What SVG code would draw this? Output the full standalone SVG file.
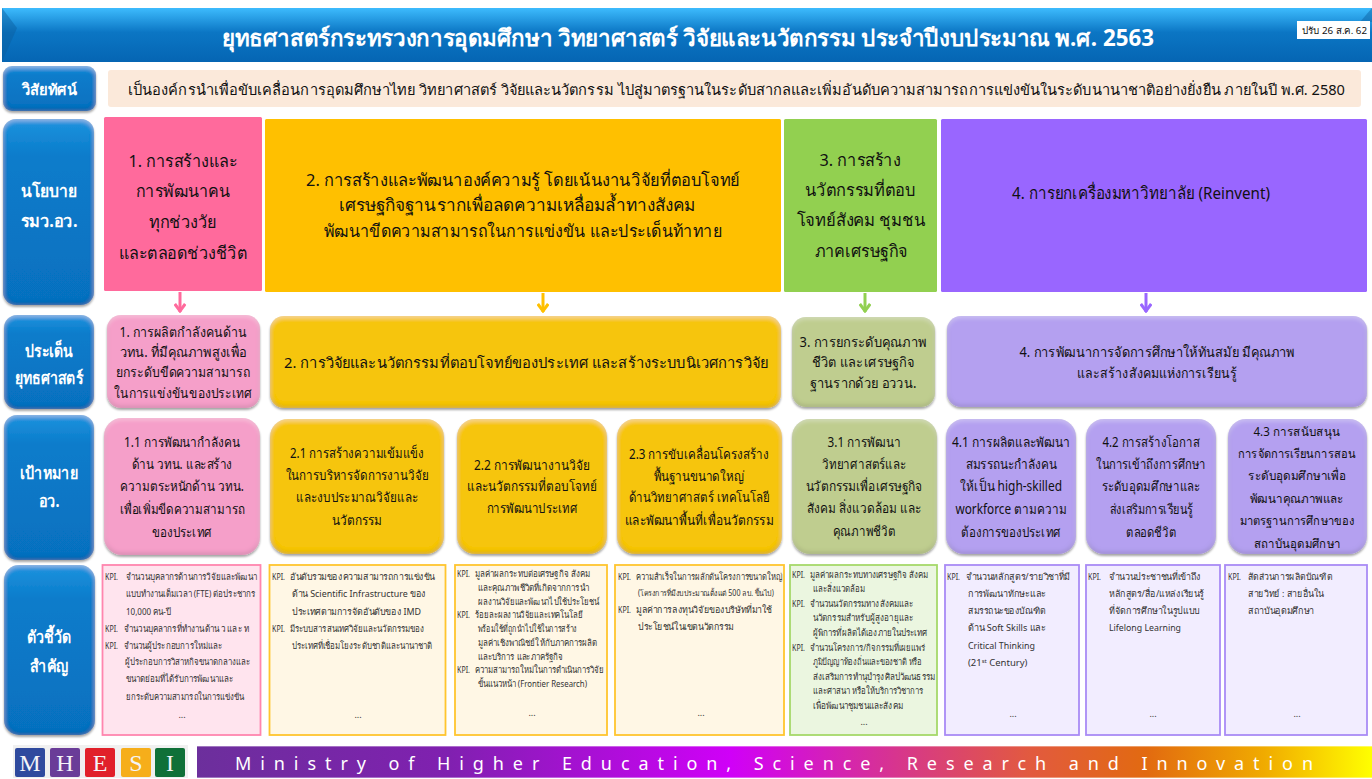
<svg xmlns="http://www.w3.org/2000/svg" width="1372" height="779" viewBox="0 0 1372 779">
<defs>
<style>
text{font-family:"Noto Sans","Liberation Sans","DejaVu Sans",sans-serif;text-anchor:middle;fill:#111}
.title{font-size:23px;font-weight:700;fill:#fff}
.side{font-size:17px;font-weight:700;fill:#fff}
.pol{font-size:17px;fill:#111}
.str{font-size:14px}
.goal{font-size:13.500px}
#goal-4-3 .goal{font-size:12.500px}
.k{font-size:9.500px;text-anchor:start;fill:#333}
text.k[textLength="13"]{font-size:8px}
.d{font-size:9px;fill:#333}
.logo{font-family:"Liberation Serif",serif;font-size:24px;fill:#F4F4F8}
.blue{fill:url(#gBlue);filter:url(#sh)}
.pnk{fill:#F59FC9;filter:url(#sh)}
.yel{fill:#F6C50B;filter:url(#sh)}
.olv{fill:#BFCD8F;filter:url(#sh)}
.pur{fill:#B4A0F0;filter:url(#sh)}
.kp{fill:#FFE4EE;stroke:#FF85AE;stroke-width:1.800}
.ky{fill:#FFF7E5;stroke:#FFC52E;stroke-width:1.800}
.kg{fill:#EBF6E0;stroke:#A6D96A;stroke-width:1.800}
.ku{fill:#F2EDFF;stroke:#A98BF5;stroke-width:1.800}
.arr{stroke-width:3;fill:none}
</style>
<linearGradient id="gBlue" x1="0" y1="0" x2="0" y2="1"><stop offset="0" stop-color="#1E93DE"/><stop offset=".2" stop-color="#0A7CCB"/><stop offset="1" stop-color="#0670BF"/></linearGradient>
<linearGradient id="gTitle" x1="0" y1="0" x2="0" y2="1"><stop offset="0" stop-color="#3DBBFD"/><stop offset=".45" stop-color="#0B76C4"/><stop offset="1" stop-color="#0565B3"/></linearGradient>
<linearGradient id="gBand" x1="0" y1="0" x2="1" y2="0"><stop offset="0" stop-color="#6C2F9C"/><stop offset=".215" stop-color="#8020B0"/><stop offset=".454" stop-color="#D000F8"/><stop offset=".614" stop-color="#D83C80"/><stop offset=".709" stop-color="#E25A3F"/><stop offset=".808" stop-color="#E26A10"/><stop offset=".907" stop-color="#F0AA00"/><stop offset=".95" stop-color="#F8D000"/><stop offset="1" stop-color="#FFFF00"/></linearGradient>
<filter id="sh" x="-5%" y="-5%" width="110%" height="112%">
<feGaussianBlur in="SourceAlpha" stdDeviation="1.200" result="b0"/><feOffset in="b0" dy="1.500" result="o0"/><feFlood flood-color="#000" flood-opacity=".35"/><feComposite in2="o0" operator="in" result="drop"/>
<feGaussianBlur in="SourceAlpha" stdDeviation="2" result="b1"/><feOffset in="b1" dy="-2" result="o1"/><feComposite in="SourceAlpha" in2="o1" operator="out" result="c1"/><feFlood flood-color="#000" flood-opacity=".28"/><feComposite in2="c1" operator="in" result="dark"/>
<feOffset in="b1" dy="2" result="o2"/><feComposite in="SourceAlpha" in2="o2" operator="out" result="c2"/><feFlood flood-color="#fff" flood-opacity=".3"/><feComposite in2="c2" operator="in" result="light"/>
<feMerge><feMergeNode in="drop"/><feMergeNode in="SourceGraphic"/><feMergeNode in="dark"/><feMergeNode in="light"/></feMerge>
</filter>
<marker id="mP" viewBox="0 0 12 12" refX="11" refY="6" markerWidth="12" markerHeight="12" markerUnits="userSpaceOnUse" orient="auto"><path d="M3 .8L10 6L3 11.200" fill="none" stroke="#FF6A9C" stroke-width="3"/></marker>
<marker id="mY" viewBox="0 0 12 12" refX="11" refY="6" markerWidth="12" markerHeight="12" markerUnits="userSpaceOnUse" orient="auto"><path d="M3 .8L10 6L3 11.200" fill="none" stroke="#FFC000" stroke-width="3"/></marker>
<marker id="mG" viewBox="0 0 12 12" refX="11" refY="6" markerWidth="12" markerHeight="12" markerUnits="userSpaceOnUse" orient="auto"><path d="M3 .8L10 6L3 11.200" fill="none" stroke="#92D050" stroke-width="3"/></marker>
<marker id="mU" viewBox="0 0 12 12" refX="11" refY="6" markerWidth="12" markerHeight="12" markerUnits="userSpaceOnUse" orient="auto"><path d="M3 .8L10 6L3 11.200" fill="none" stroke="#9966FF" stroke-width="3"/></marker>
</defs>
<rect width="1372" height="779" fill="#fff"/>
<g id="title"><rect x="2" y="8" width="1370" height="54" fill="url(#gTitle)"/><path d="M2 8L17 28L2 62Z" fill="#0A5E9E" opacity=".45"/><path d="M1372 8L1360 22H1372Z" fill="#0A5E9E" opacity=".45"/>
<text class="title" x="688" y="46" textLength="932" lengthAdjust="spacingAndGlyphs">ยุทธศาสตร์กระทรวงการอุดมศึกษา วิทยาศาสตร์ วิจัยและนวัตกรรม ประจำปีงบประมาณ พ.ศ. 2563</text></g>
<g id="date-tag"><rect x="1297" y="21" width="73" height="18" fill="#fff"/><text x="1334.500" y="34" style="font-size:9.500px" textLength="65" lengthAdjust="spacingAndGlyphs">ปรับ 26 ส.ค. 62</text></g>
<g id="vision-label"><rect class="blue" x="3" y="66" width="93" height="45" rx="9"/><text class="side" x="49.500" y="95" style="font-size:15px" textLength="55" lengthAdjust="spacingAndGlyphs">วิสัยทัศน์</text></g>
<g id="vision"><rect x="108" y="70" width="1253" height="37" rx="3" fill="#FBE9DA"/><text x="736.500" y="95" style="font-size:14.500px" textLength="1217" lengthAdjust="spacingAndGlyphs">เป็นองค์กรนำเพื่อขับเคลื่อนการอุดมศึกษาไทย วิทยาศาสตร์ วิจัยและนวัตกรรม ไปสู่มาตรฐานในระดับสากลและเพิ่มอันดับความสามารถการแข่งขันในระดับนานาชาติอย่างยั่งยืน ภายในปี พ.ศ. 2580</text></g>
<g id="policy-label"><rect class="blue" x="3" y="119" width="91" height="186" rx="13"/><text class="side" x="49" y="197" textLength="57" lengthAdjust="spacingAndGlyphs">นโยบาย</text><text class="side" x="49" y="227" textLength="57" lengthAdjust="spacingAndGlyphs">รมว.อว.</text></g>
<g id="strategy-label"><rect class="blue" x="4" y="315" width="90" height="94" rx="13"/><text class="side" x="49" y="357" textLength="48" lengthAdjust="spacingAndGlyphs">ประเด็น</text><text class="side" x="49" y="384" textLength="68" lengthAdjust="spacingAndGlyphs">ยุทธศาสตร์</text></g>
<g id="goal-label"><rect class="blue" x="4" y="415" width="90" height="145" rx="13"/><text class="side" x="49" y="479" textLength="58" lengthAdjust="spacingAndGlyphs">เป้าหมาย</text><text class="side" x="49" y="507" textLength="21" lengthAdjust="spacingAndGlyphs">อว.</text></g>
<g id="kpi-label"><rect class="blue" x="4" y="565" width="91" height="170" rx="15"/><text class="side" x="49" y="643" textLength="45" lengthAdjust="spacingAndGlyphs">ตัวชี้วัด</text><text class="side" x="49" y="672" textLength="38" lengthAdjust="spacingAndGlyphs">สำคัญ</text></g>
<g id="policy-1"><rect x="104" y="117" width="158" height="174" rx="1.500" fill="#FF6A9C"/><text class="pol" x="183" y="167" textLength="109" lengthAdjust="spacingAndGlyphs">1. การสร้างและ</text><text class="pol" x="183" y="197" textLength="94" lengthAdjust="spacingAndGlyphs">การพัฒนาคน</text><text class="pol" x="183" y="228" textLength="68" lengthAdjust="spacingAndGlyphs">ทุกช่วงวัย</text><text class="pol" x="183" y="259" textLength="128" lengthAdjust="spacingAndGlyphs">และตลอดช่วงชีวิต</text></g>
<g id="policy-2"><rect x="265" y="119" width="516" height="173" rx="1.500" fill="#FFC000"/><text class="pol" x="523" y="186" textLength="434" lengthAdjust="spacingAndGlyphs">2. การสร้างและพัฒนาองค์ความรู้ โดยเน้นงานวิจัยที่ตอบโจทย์</text><text class="pol" x="517" y="211" textLength="357" lengthAdjust="spacingAndGlyphs">เศรษฐกิจฐานรากเพื่อลดความเหลื่อมล้ำทางสังคม</text><text class="pol" x="523" y="237" textLength="398" lengthAdjust="spacingAndGlyphs">พัฒนาขีดความสามารถในการแข่งขัน และประเด็นท้าทาย</text></g>
<g id="policy-3"><rect x="784" y="119" width="153" height="173" rx="1.500" fill="#92D050"/><text class="pol" x="860" y="166" textLength="81" lengthAdjust="spacingAndGlyphs">3. การสร้าง</text><text class="pol" x="860" y="196" textLength="111" lengthAdjust="spacingAndGlyphs">นวัตกรรมที่ตอบ</text><text class="pol" x="861" y="226" textLength="129" lengthAdjust="spacingAndGlyphs">โจทย์สังคม ชุมชน</text><text class="pol" x="861" y="257" textLength="93" lengthAdjust="spacingAndGlyphs">ภาคเศรษฐกิจ</text></g>
<g id="policy-4"><rect x="941" y="119" width="426" height="173" rx="1.500" fill="#9966FF"/><text class="pol" x="1141" y="199" textLength="258" lengthAdjust="spacingAndGlyphs">4. การยกเครื่องมหาวิทยาลัย (Reinvent)</text></g>
<g id="connectors">
<path class="arr" stroke="#FF6A9C" marker-end="url(#mP)" d="M180 292V312"/>
<path class="arr" stroke="#FFC000" marker-end="url(#mY)" d="M543 293V312"/>
<path class="arr" stroke="#92D050" marker-end="url(#mG)" d="M865 293V312"/>
<path class="arr" stroke="#9966FF" marker-end="url(#mU)" d="M1146 293V312"/>
</g>
<g id="strategy-1"><rect class="pnk" x="107" y="315" width="153" height="93" rx="14"/><text class="str" x="183" y="337" textLength="127" lengthAdjust="spacingAndGlyphs">1. การผลิตกำลังคนด้าน</text><text class="str" x="183" y="357" textLength="127" lengthAdjust="spacingAndGlyphs">วทน. ที่มีคุณภาพสูงเพื่อ</text><text class="str" x="183" y="377" textLength="134" lengthAdjust="spacingAndGlyphs">ยกระดับขีดความสามารถ</text><text class="str" x="183" y="398" textLength="138" lengthAdjust="spacingAndGlyphs">ในการแข่งขันของประเทศ</text></g>
<g id="strategy-2"><rect class="yel" x="270" y="316" width="511" height="92" rx="14"/><text class="str" x="526" y="368" style="font-size:14.500px" textLength="484" lengthAdjust="spacingAndGlyphs">2. การวิจัยและนวัตกรรมที่ตอบโจทย์ของประเทศ และสร้างระบบนิเวศการวิจัย</text></g>
<g id="strategy-3"><rect class="olv" x="792" y="317" width="143" height="90" rx="14"/><text class="str" x="863" y="347" textLength="127" lengthAdjust="spacingAndGlyphs">3. การยกระดับคุณภาพ</text><text class="str" x="863" y="367" textLength="102" lengthAdjust="spacingAndGlyphs">ชีวิต และเศรษฐกิจ</text><text class="str" x="863" y="388" textLength="107" lengthAdjust="spacingAndGlyphs">ฐานรากด้วย อววน.</text></g>
<g id="strategy-4"><rect class="pur" x="947" y="316" width="420" height="91" rx="14"/><text class="str" x="1157" y="357" textLength="275" lengthAdjust="spacingAndGlyphs">4. การพัฒนาการจัดการศึกษาให้ทันสมัย มีคุณภาพ</text><text class="str" x="1157" y="378" textLength="160" lengthAdjust="spacingAndGlyphs">และสร้างสังคมแห่งการเรียนรู้</text></g>
<g id="goal-1-1"><rect class="pnk" x="104" y="418" width="156" height="137" rx="18"/><text class="goal" x="182" y="447" textLength="116" lengthAdjust="spacingAndGlyphs">1.1 การพัฒนากำลังคน</text><text class="goal" x="182" y="469" textLength="101" lengthAdjust="spacingAndGlyphs">ด้าน วทน. และสร้าง</text><text class="goal" x="182" y="491" textLength="124" lengthAdjust="spacingAndGlyphs">ความตระหนักด้าน วทน.</text><text class="goal" x="182" y="514" textLength="125" lengthAdjust="spacingAndGlyphs">เพื่อเพิ่มขีดความสามารถ</text><text class="goal" x="182" y="537" textLength="60" lengthAdjust="spacingAndGlyphs">ของประเทศ</text></g>
<g id="goal-2-1"><rect class="yel" x="270" y="419" width="174" height="135" rx="18"/><text class="goal" x="357" y="458" textLength="134" lengthAdjust="spacingAndGlyphs">2.1 การสร้างความเข้มแข็ง</text><text class="goal" x="357" y="480" textLength="143" lengthAdjust="spacingAndGlyphs">ในการบริหารจัดการงานวิจัย</text><text class="goal" x="357" y="502" textLength="122" lengthAdjust="spacingAndGlyphs">และงบประมาณวิจัยและ</text><text class="goal" x="357" y="525" textLength="50" lengthAdjust="spacingAndGlyphs">นวัตกรรม</text></g>
<g id="goal-2-2"><rect class="yel" x="457" y="419" width="150" height="135" rx="18"/><text class="goal" x="532" y="470" textLength="116" lengthAdjust="spacingAndGlyphs">2.2 การพัฒนางานวิจัย</text><text class="goal" x="532" y="491" textLength="130" lengthAdjust="spacingAndGlyphs">และนวัตกรรมที่ตอบโจทย์</text><text class="goal" x="532" y="513" textLength="91" lengthAdjust="spacingAndGlyphs">การพัฒนาประเทศ</text></g>
<g id="goal-2-3"><rect class="yel" x="617" y="419" width="165" height="135" rx="18"/><text class="goal" x="699" y="459" textLength="140" lengthAdjust="spacingAndGlyphs">2.3 การขับเคลื่อนโครงสร้าง</text><text class="goal" x="699" y="481" textLength="91" lengthAdjust="spacingAndGlyphs">พื้นฐานขนาดใหญ่</text><text class="goal" x="699" y="502" textLength="141" lengthAdjust="spacingAndGlyphs">ด้านวิทยาศาสตร์ เทคโนโลยี</text><text class="goal" x="699" y="525" textLength="149" lengthAdjust="spacingAndGlyphs">และพัฒนาพื้นที่เพื่อนวัตกรรม</text></g>
<g id="goal-3-1"><rect class="olv" x="792" y="419" width="145" height="135" rx="18"/><text class="goal" x="864" y="447" textLength="73" lengthAdjust="spacingAndGlyphs">3.1 การพัฒนา</text><text class="goal" x="864" y="469" textLength="84" lengthAdjust="spacingAndGlyphs">วิทยาศาสตร์และ</text><text class="goal" x="864" y="491" textLength="117" lengthAdjust="spacingAndGlyphs">นวัตกรรมเพื่อเศรษฐกิจ</text><text class="goal" x="864" y="513" textLength="114" lengthAdjust="spacingAndGlyphs">สังคม สิ่งแวดล้อม และ</text><text class="goal" x="864" y="536" textLength="63" lengthAdjust="spacingAndGlyphs">คุณภาพชีวิต</text></g>
<g id="goal-4-1"><rect class="pur" x="946" y="419" width="130" height="135" rx="18"/><text class="goal" x="1011" y="447" textLength="118" lengthAdjust="spacingAndGlyphs">4.1 การผลิตและพัฒนา</text><text class="goal" x="1011" y="469" textLength="91" lengthAdjust="spacingAndGlyphs">สมรรถนะกำลังคน</text><text class="goal" x="1011" y="491" textLength="102" lengthAdjust="spacingAndGlyphs">ให้เป็น high-skilled</text><text class="goal" x="1011" y="514" textLength="111" lengthAdjust="spacingAndGlyphs">workforce ตามความ</text><text class="goal" x="1011" y="537" textLength="100" lengthAdjust="spacingAndGlyphs">ต้องการของประเทศ</text></g>
<g id="goal-4-2"><rect class="pur" x="1086" y="419" width="130" height="135" rx="18"/><text class="goal" x="1151" y="447" textLength="97" lengthAdjust="spacingAndGlyphs">4.2 การสร้างโอกาส</text><text class="goal" x="1151" y="469" textLength="110" lengthAdjust="spacingAndGlyphs">ในการเข้าถึงการศึกษา</text><text class="goal" x="1151" y="491" textLength="98" lengthAdjust="spacingAndGlyphs">ระดับอุดมศึกษาและ</text><text class="goal" x="1151" y="514" textLength="83" lengthAdjust="spacingAndGlyphs">ส่งเสริมการเรียนรู้</text><text class="goal" x="1151" y="537" textLength="50" lengthAdjust="spacingAndGlyphs">ตลอดชีวิต</text></g>
<g id="goal-4-3"><rect class="pur" x="1228" y="419" width="139" height="135" rx="18"/><text class="goal" x="1297" y="436" textLength="87" lengthAdjust="spacingAndGlyphs">4.3 การสนับสนุน</text><text class="goal" x="1297" y="458" textLength="118" lengthAdjust="spacingAndGlyphs">การจัดการเรียนการสอน</text><text class="goal" x="1297" y="480" textLength="98" lengthAdjust="spacingAndGlyphs">ระดับอุดมศึกษาเพื่อ</text><text class="goal" x="1297" y="503" textLength="94" lengthAdjust="spacingAndGlyphs">พัฒนาคุณภาพและ</text><text class="goal" x="1297" y="525" textLength="115" lengthAdjust="spacingAndGlyphs">มาตรฐานการศึกษาของ</text><text class="goal" x="1297" y="548" textLength="87" lengthAdjust="spacingAndGlyphs">สถาบันอุดมศึกษา</text></g>
<g id="kpi-1"><rect class="kp" x="102.500" y="565" width="158" height="170"/>
<text class="k" x="105" y="580" textLength="13" lengthAdjust="spacingAndGlyphs">KPI.</text><text class="k" x="126" y="580" textLength="131" lengthAdjust="spacingAndGlyphs">จำนวนบุคลากรด้านการวิจัยและพัฒนา</text><text class="k" x="126" y="597" textLength="129" lengthAdjust="spacingAndGlyphs">แบบทำงานเต็มเวลา (FTE) ต่อประชากร</text><text class="k" x="126" y="615" textLength="45" lengthAdjust="spacingAndGlyphs">10,000 คน-ปี</text><text class="k" x="105" y="632" textLength="13" lengthAdjust="spacingAndGlyphs">KPI.</text><text class="k" x="124" y="632" textLength="125" lengthAdjust="spacingAndGlyphs">จำนวนบุคลากรที่ทำงานด้าน ว และ ท</text><text class="k" x="105" y="649" textLength="13" lengthAdjust="spacingAndGlyphs">KPI.</text><text class="k" x="124" y="649" textLength="98" lengthAdjust="spacingAndGlyphs">จำนวนผู้ประกอบการใหม่และ</text><text class="k" x="125" y="665" textLength="125" lengthAdjust="spacingAndGlyphs">ผู้ประกอบการวิสาหกิจขนาดกลางและ</text><text class="k" x="126" y="682" textLength="107" lengthAdjust="spacingAndGlyphs">ขนาดย่อมที่ได้รับการพัฒนาและ</text><text class="k" x="126" y="700" textLength="118" lengthAdjust="spacingAndGlyphs">ยกระดับความสามารถในการแข่งขัน</text><text class="d" x="182" y="718">...</text></g>
<g id="kpi-2"><rect class="ky" x="269.500" y="565" width="176" height="170"/>
<text class="k" x="272" y="580" textLength="13" lengthAdjust="spacingAndGlyphs">KPI.</text><text class="k" x="290" y="580" textLength="145" lengthAdjust="spacingAndGlyphs">อันดับรวมของความสามารถการแข่งขัน</text><text class="k" x="292" y="597" textLength="134" lengthAdjust="spacingAndGlyphs">ด้าน Scientific Infrastructure ของ</text><text class="k" x="292" y="615" textLength="129" lengthAdjust="spacingAndGlyphs">ประเทศตามการจัดอันดับของ IMD</text><text class="k" x="272" y="632" textLength="13" lengthAdjust="spacingAndGlyphs">KPI.</text><text class="k" x="290" y="632" textLength="134" lengthAdjust="spacingAndGlyphs">มีระบบสารสนเทศวิจัยและนวัตกรรมของ</text><text class="k" x="292" y="649" textLength="140" lengthAdjust="spacingAndGlyphs">ประเทศที่เชื่อมโยงระดับชาติและนานาชาติ</text><text class="d" x="358" y="718">...</text></g>
<g id="kpi-3"><rect class="ky" x="455" y="565" width="152" height="170"/>
<text class="k" x="457" y="577" textLength="13" lengthAdjust="spacingAndGlyphs">KPI.</text><text class="k" x="475" y="577" textLength="115" lengthAdjust="spacingAndGlyphs">มูลค่าผลกระทบต่อเศรษฐกิจ สังคม</text><text class="k" x="478" y="591" textLength="111" lengthAdjust="spacingAndGlyphs">และคุณภาพชีวิตที่เกิดจากการนำ</text><text class="k" x="478" y="605" textLength="121" lengthAdjust="spacingAndGlyphs">ผลงานวิจัยและพัฒนาไปใช้ประโยชน์</text><text class="k" x="457" y="618" textLength="13" lengthAdjust="spacingAndGlyphs">KPI.</text><text class="k" x="475" y="618" textLength="108" lengthAdjust="spacingAndGlyphs">ร้อยละผลงานวิจัยและเทคโนโลยี</text><text class="k" x="478" y="632" textLength="99" lengthAdjust="spacingAndGlyphs">พร้อมใช้ที่ถูกนำไปใช้ในการสร้าง</text><text class="k" x="478" y="646" textLength="119" lengthAdjust="spacingAndGlyphs">มูลค่าเชิงพาณิชย์ให้กับภาคการผลิต</text><text class="k" x="478" y="660" textLength="85" lengthAdjust="spacingAndGlyphs">และบริการ และภาครัฐกิจ</text><text class="k" x="457" y="673" textLength="13" lengthAdjust="spacingAndGlyphs">KPI.</text><text class="k" x="475" y="673" textLength="129" lengthAdjust="spacingAndGlyphs">ความสามารถใหม่ในการดำเนินการวิจัย</text><text class="k" x="478" y="687" textLength="109" lengthAdjust="spacingAndGlyphs">ขั้นแนวหน้า (Frontier Research)</text><text class="d" x="532" y="716">...</text></g>
<g id="kpi-4"><rect class="ky" x="615" y="565" width="169" height="170"/>
<text class="k" x="618" y="580" textLength="13" lengthAdjust="spacingAndGlyphs">KPI.</text><text class="k" x="636" y="580" textLength="146" lengthAdjust="spacingAndGlyphs">ความสำเร็จในการผลักดันโครงการขนาดใหญ่</text><text class="k" x="638" y="596" style="font-size:8px" textLength="136" lengthAdjust="spacingAndGlyphs">(โครงการที่มีงบประมาณตั้งแต่ 500 ลบ. ขึ้นไป)</text><text class="k" x="618" y="613" textLength="13" lengthAdjust="spacingAndGlyphs">KPI.</text><text class="k" x="636" y="613" textLength="136" lengthAdjust="spacingAndGlyphs">มูลค่าการลงทุนวิจัยของบริษัทที่มาใช้</text><text class="k" x="638" y="630" textLength="96" lengthAdjust="spacingAndGlyphs">ประโยชน์ในเขตนวัตกรรม</text><text class="d" x="701" y="716">...</text></g>
<g id="kpi-5"><rect class="kg" x="790" y="565" width="147" height="170"/>
<text class="k" x="792" y="578" textLength="13" lengthAdjust="spacingAndGlyphs">KPI.</text><text class="k" x="810" y="578" textLength="118" lengthAdjust="spacingAndGlyphs">มูลค่าผลกระทบทางเศรษฐกิจ สังคม</text><text class="k" x="813" y="592" textLength="52" lengthAdjust="spacingAndGlyphs">และสิ่งแวดล้อม</text><text class="k" x="792" y="607" textLength="13" lengthAdjust="spacingAndGlyphs">KPI.</text><text class="k" x="810" y="607" textLength="103" lengthAdjust="spacingAndGlyphs">จำนวนนวัตกรรมทางสังคมและ</text><text class="k" x="813" y="621" textLength="100" lengthAdjust="spacingAndGlyphs">นวัตกรรมสำหรับผู้สูงอายุและ</text><text class="k" x="813" y="636" textLength="114" lengthAdjust="spacingAndGlyphs">ผู้พิการที่ผลิตได้เองภายในประเทศ</text><text class="k" x="792" y="651" textLength="13" lengthAdjust="spacingAndGlyphs">KPI.</text><text class="k" x="810" y="651" textLength="115" lengthAdjust="spacingAndGlyphs">จำนวนโครงการ/กิจกรรมที่เผยแพร่</text><text class="k" x="813" y="665" textLength="109" lengthAdjust="spacingAndGlyphs">ภูมิปัญญาท้องถิ่นและของชาติ หรือ</text><text class="k" x="813" y="680" textLength="122" lengthAdjust="spacingAndGlyphs">ส่งเสริมการทำนุบำรุงศิลปวัฒนธรรม</text><text class="k" x="813" y="694" textLength="110" lengthAdjust="spacingAndGlyphs">และศาสนา หรือให้บริการวิชาการ</text><text class="k" x="813" y="709" textLength="90" lengthAdjust="spacingAndGlyphs">เพื่อพัฒนาชุมชนและสังคม</text><text class="d" x="864" y="725">...</text></g>
<g id="kpi-6"><rect class="ku" x="945" y="565" width="134" height="170"/>
<text class="k" x="947" y="580" textLength="13" lengthAdjust="spacingAndGlyphs">KPI.</text><text class="k" x="966" y="580" textLength="104" lengthAdjust="spacingAndGlyphs">จำนวนหลักสูตร/รายวิชาที่มี</text><text class="k" x="968" y="597" textLength="78" lengthAdjust="spacingAndGlyphs">การพัฒนาทักษะและ</text><text class="k" x="968" y="614" textLength="78" lengthAdjust="spacingAndGlyphs">สมรรถนะของบัณฑิต</text><text class="k" x="968" y="631" textLength="78" lengthAdjust="spacingAndGlyphs">ด้าน Soft Skills และ</text><text class="k" x="968" y="649" textLength="67" lengthAdjust="spacingAndGlyphs">Critical Thinking</text><text class="k" x="968" y="666">(21<tspan dy="-3" style="font-size:6px">st</tspan><tspan dy="3"> Century)</tspan></text><text class="d" x="1013" y="717">...</text></g>
<g id="kpi-7"><rect class="ku" x="1086" y="565" width="134" height="170"/>
<text class="k" x="1088" y="580" textLength="13" lengthAdjust="spacingAndGlyphs">KPI.</text><text class="k" x="1109" y="580" textLength="92" lengthAdjust="spacingAndGlyphs">จำนวนประชาชนที่เข้าถึง</text><text class="k" x="1109" y="597" textLength="95" lengthAdjust="spacingAndGlyphs">หลักสูตร/สื่อ/แหล่งเรียนรู้</text><text class="k" x="1109" y="614" textLength="91" lengthAdjust="spacingAndGlyphs">ที่จัดการศึกษาในรูปแบบ</text><text class="k" x="1109" y="631" textLength="72" lengthAdjust="spacingAndGlyphs">Lifelong Learning</text><text class="d" x="1153" y="717">...</text></g>
<g id="kpi-8"><rect class="ku" x="1225" y="565" width="142" height="170"/>
<text class="k" x="1228" y="580" textLength="13" lengthAdjust="spacingAndGlyphs">KPI.</text><text class="k" x="1248" y="580" textLength="84" lengthAdjust="spacingAndGlyphs">สัดส่วนการผลิตบัณฑิต</text><text class="k" x="1248" y="597" textLength="76" lengthAdjust="spacingAndGlyphs">สายวิทย์ : สายอื่นใน</text><text class="k" x="1248" y="614" textLength="66" lengthAdjust="spacingAndGlyphs">สถาบันอุดมศึกษา</text><text class="d" x="1297" y="717">...</text></g>
<g id="logo"><rect x="13" y="745" width="175" height="33" fill="#F0F0F0"/>
<rect x="15" y="748" width="30" height="29" rx="2" fill="#2F4A9E"/><rect x="50" y="748" width="30" height="29" rx="2" fill="#6A3C98"/><rect x="85" y="748" width="30" height="29" rx="2" fill="#E1202A"/><rect x="121" y="748" width="30" height="29" rx="2" fill="#F6AE1A"/><rect x="155" y="748" width="30" height="29" rx="2" fill="#0F7038"/>
<text class="logo" x="30" y="771">M</text><text class="logo" x="65" y="771">H</text><text class="logo" x="100" y="771">E</text><text class="logo" x="136" y="771">S</text><text class="logo" x="170" y="771">I</text></g>
<g id="banner"><rect x="197" y="746" width="1175" height="32" fill="url(#gBand)"/><rect x="197" y="746" width="1175" height="1" fill="#fff" opacity=".35"/><rect x="197" y="777" width="1175" height="1" fill="#fff" opacity=".35"/><text x="235" y="770" style="font-size:18px;text-anchor:start;fill:#fff" textLength="1078" lengthAdjust="spacing">Ministry of Higher Education, Science, Research and Innovation</text></g>
</svg>
